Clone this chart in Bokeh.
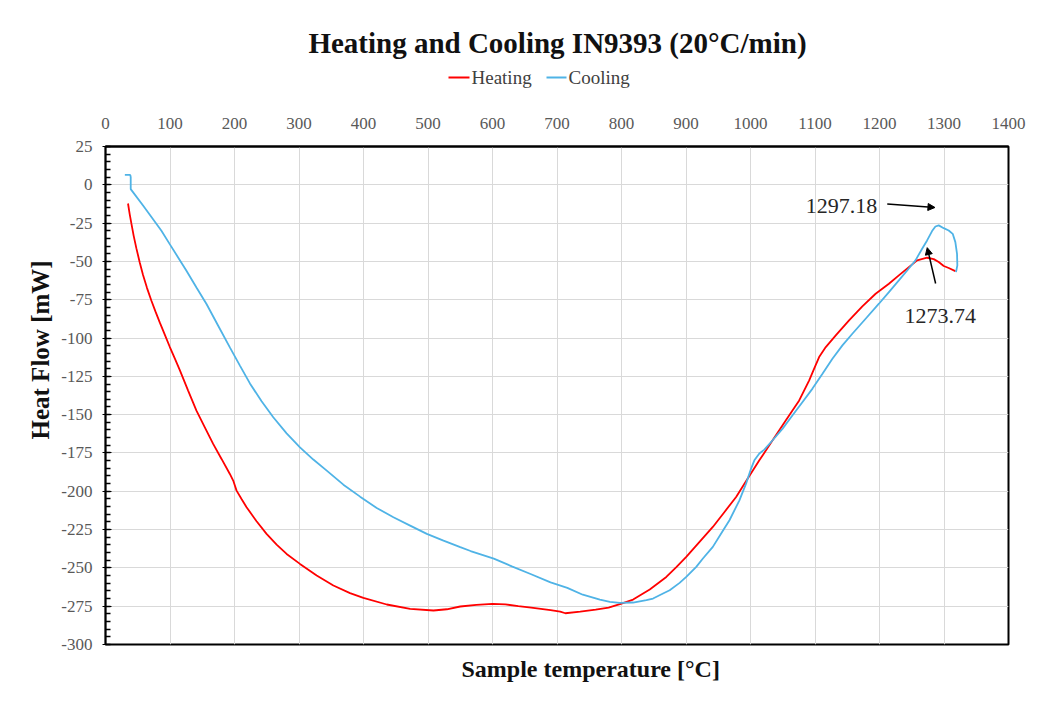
from bokeh.plotting import figure
from bokeh.layouts import column
from bokeh.models import (Range1d, SingleIntervalTicker, Label, Arrow, NormalHead,
                          Title, PrintfTickFormatter)
from bokeh.core.properties import value
from bokeh.embed import file_html
from bokeh.resources import INLINE

# ---- data ----
heating_T = [34.9, 37.5, 40.1, 43.7, 47.9, 53.1, 58.2, 64.4, 71.2, 77.4, 84.1, 91.9, 99.6,
             107.4, 115.2, 128.1, 141.0, 154.0, 166.9, 179.9, 192.8, 198.0, 203.2, 210.9,
             218.7, 234.2, 249.7, 265.3, 280.8, 301.5, 327.4, 353.3, 379.1, 399.8, 436.1,
             472.3, 508.5, 529.2, 550.0, 575, 600, 620, 640, 660, 690, 705, 713, 736, 760,
             780, 800, 818, 843.8, 869.5, 885, 900.4, 921, 941.6, 959.7, 977.7, 995.7,
             1013.7, 1034.3, 1054.9, 1075.5, 1091, 1098.7, 1106.4, 1116.7, 1132.2, 1152.8,
             1173.4, 1194, 1214.6, 1230, 1245.5, 1258.4, 1273.8, 1284.1, 1291.8, 1299.6,
             1307.3, 1317.6]
heating_mW = [-12.2, -19.1, -25.2, -33.3, -41.5, -50.7, -58.9, -67.4, -75.7, -82.6, -89.8,
              -97.8, -105.7, -113.3, -120.9, -134.3, -147.4, -158.3, -169.1, -178.9, -188.7,
              -193.0, -199.6, -205.0, -210.4, -219.6, -227.8, -234.8, -240.9, -247.4, -255.0,
              -261.5, -266.5, -269.6, -273.9, -276.7, -277.8, -277.0, -275.2, -274.2, -273.5,
              -273.8, -275.0, -276.0, -277.5, -278.5, -279.6, -278.5, -277.3, -276.0, -273.3,
              -270.7, -264.1, -255.9, -249.5, -242.8, -233.0, -223.3, -213.5, -203.7, -191.7,
              -179.8, -166.7, -153.7, -140.7, -127.6, -120.0, -112.4, -105.9, -98.3, -88.5,
              -79.3, -71.1, -64.6, -59.1, -53.7, -49.3, -47.6, -48.5, -50.4, -53.0, -54.3,
              -56.3]

cooling_T = [1318.6, 1320.7, 1320.2, 1317.6, 1313.5, 1307.3, 1299.6, 1291.8, 1286.7, 1281.5,
             1273.8, 1266.1, 1255.8, 1242.9, 1230, 1214.6, 1199.1, 1178.5, 1157.9, 1142.5,
             1127, 1111.6, 1096.1, 1080.7, 1065.2, 1049.8, 1034.3, 1021.5, 1013.7, 1006,
             1000.9, 993.1, 982.8, 967.4, 954.5, 941.6, 926.2, 915.9, 900.4, 890.1, 874.7,
             864.4, 848.9, 838.6, 818, 797.4, 782, 766.5, 740, 716, 690, 659, 630, 602, 566,
             550, 524, 498.2, 472.3, 446.4, 420.5, 394.7, 368.8, 343, 322.2, 301.5, 280.8,
             260.1, 242, 223.9, 208.4, 192.8, 174.7, 156.6, 141, 125.5, 112.6, 99.6, 86.7,
             76.3, 58.2, 39.1, 39.1, 38.5, 37, 30]
cooling_mW = [-57.0, -52.6, -45.0, -37.4, -32.0, -29.8, -28.3, -26.5, -27.2, -30.2, -36.3,
              -41.7, -49.3, -55.9, -62.4, -70.0, -77.6, -87.4, -97.2, -104.8, -113.5, -123.3,
              -133.0, -141.7, -150.4, -159.1, -166.7, -172.8, -175.4, -179.8, -185.2, -195.0,
              -205.9, -218.9, -227.6, -236.3, -243.9, -249.3, -255.9, -259.8, -264.6, -266.7,
              -270.0, -271.1, -272.6, -272.8, -272.2, -270.7, -267.5, -263, -259.5, -254,
              -249, -244, -239, -236.5, -232.2, -227.8, -222.4, -217.0, -210.9, -203.5,
              -195.7, -186.5, -179.3, -171.3, -162.2, -151.7, -141.3, -129.6, -118, -106.1,
              -92, -77.8, -67, -56.1, -47.4, -38.7, -30, -23.9, -13.5, -2.8, 5.0, 6.3, 6.5,
              6.5]

peak_labels = ["1297.18", "1273.74"]
series_names = ["Heating", "Cooling"]

title_text = "Heating and Cooling IN9393 (20°C/min)"
x_label = "Sample temperature [°C]"
y_label = "Heat Flow [mW]"

SERIF = "Liberation Serif"
RED = "#ff0000"
BLUE = "#4fb3e6"
DARK = "#111111"

W = 1058
HEAD_H = 100
MAIN_H = 706 - HEAD_H
L, R, T, B = 105, 50, 46, 62

# ---------- header: title and legend (page-pixel coordinates) ----------
hd = figure(width=W, height=HEAD_H, output_backend="svg", toolbar_location=None,
            x_range=Range1d(L, W - R), y_range=Range1d(HEAD_H, 0),
            x_axis_type=None, y_axis_type=None,
            min_border_left=L, min_border_right=R, min_border_top=0, min_border_bottom=0)
hd.outline_line_color = None
hd.xgrid.visible = False
hd.ygrid.visible = False
hd.background_fill_color = "white"
hd.border_fill_color = "white"

hd.text(x=[557], y=[42], text=[title_text], text_font=value(SERIF),
        text_font_size="29px", text_font_style="bold", text_color=DARK,
        text_align="center", text_baseline="middle")
hd.segment(x0=[448, 546], y0=[77, 77], x1=[469, 566], y1=[77, 77],
           line_color=[RED, BLUE], line_width=2)
hd.text(x=[471, 568], y=[77, 77], text=series_names, text_font=value(SERIF),
        text_font_size="19px", text_color="#404040",
        text_align="left", text_baseline="middle")

# ---------- main chart ----------
p = figure(width=W, height=MAIN_H, output_backend="svg", toolbar_location=None,
           x_range=Range1d(0, 1400), y_range=Range1d(-300, 25),
           x_axis_location="above", min_border_left=L, min_border_right=R,
           min_border_top=T, min_border_bottom=B)
p.background_fill_color = "white"
p.border_fill_color = "white"
p.outline_line_color = "black"
p.outline_line_width = 2

xa = p.xaxis[0]
xa.ticker = SingleIntervalTicker(interval=100)
xa.axis_line_color = "black"
xa.axis_line_width = 2
xa.major_tick_line_color = None
xa.minor_tick_line_color = None
xa.major_label_standoff = 12
xa.major_label_text_font = SERIF
xa.major_label_text_font_size = "17px"
xa.major_label_text_color = "#595959"

ya = p.yaxis[0]
ya.ticker = SingleIntervalTicker(interval=25, num_minor_ticks=5)
ya.formatter = PrintfTickFormatter(format="%d")
ya.axis_line_color = "black"
ya.axis_line_width = 1.5
ya.major_tick_in = 6
ya.major_tick_out = 3
ya.minor_tick_in = 5
ya.minor_tick_out = 0
ya.major_tick_line_color = "black"
ya.minor_tick_line_color = "black"
ya.minor_tick_line_width = 1.5
ya.major_label_standoff = 10
ya.major_label_text_font = SERIF
ya.major_label_text_font_size = "17px"
ya.major_label_text_color = "#595959"

for g in (p.xgrid[0], p.ygrid[0]):
    g.grid_line_color = "#d9d9d9"
    g.grid_line_width = 1
p.xgrid[0].ticker = xa.ticker
p.ygrid[0].ticker = ya.ticker

p.line(heating_T, heating_mW, line_color=RED, line_width=1.8)
p.line(cooling_T, cooling_mW, line_color=BLUE, line_width=1.8)

# axis titles
p.add_layout(Title(text=x_label, align="left", offset=356, standoff=18,
                   text_font=SERIF, text_font_size="24px", text_font_style="bold",
                   text_color=DARK), "below")
p.add_layout(Title(text=y_label, align="left", offset=205, standoff=10,
                   text_font=SERIF, text_font_size="25px", text_font_style="bold",
                   text_color=DARK), "left")

# peak annotations
p.add_layout(Label(x=1141, y=-13.7, text=peak_labels[0], text_font=SERIF,
                   text_font_size="22px", text_color="#262626",
                   text_align="center", text_baseline="middle"))
p.add_layout(Label(x=1294, y=-85.5, text=peak_labels[1], text_font=SERIF,
                   text_font_size="22px", text_color="#262626",
                   text_align="center", text_baseline="middle"))
p.add_layout(Arrow(end=NormalHead(size=7, fill_color="black", line_color="black"),
                   x_start=1212, y_start=-12.6, x_end=1286, y_end=-14.8,
                   line_color="black", line_width=1.5))
p.add_layout(Arrow(end=NormalHead(size=7, fill_color="black", line_color="black"),
                   x_start=1287, y_start=-64.4, x_end=1274, y_end=-41.0,
                   line_color="black", line_width=1.5))

layout = column(hd, p, spacing=0)
open("out.html", "w").write(file_html(layout, INLINE))
